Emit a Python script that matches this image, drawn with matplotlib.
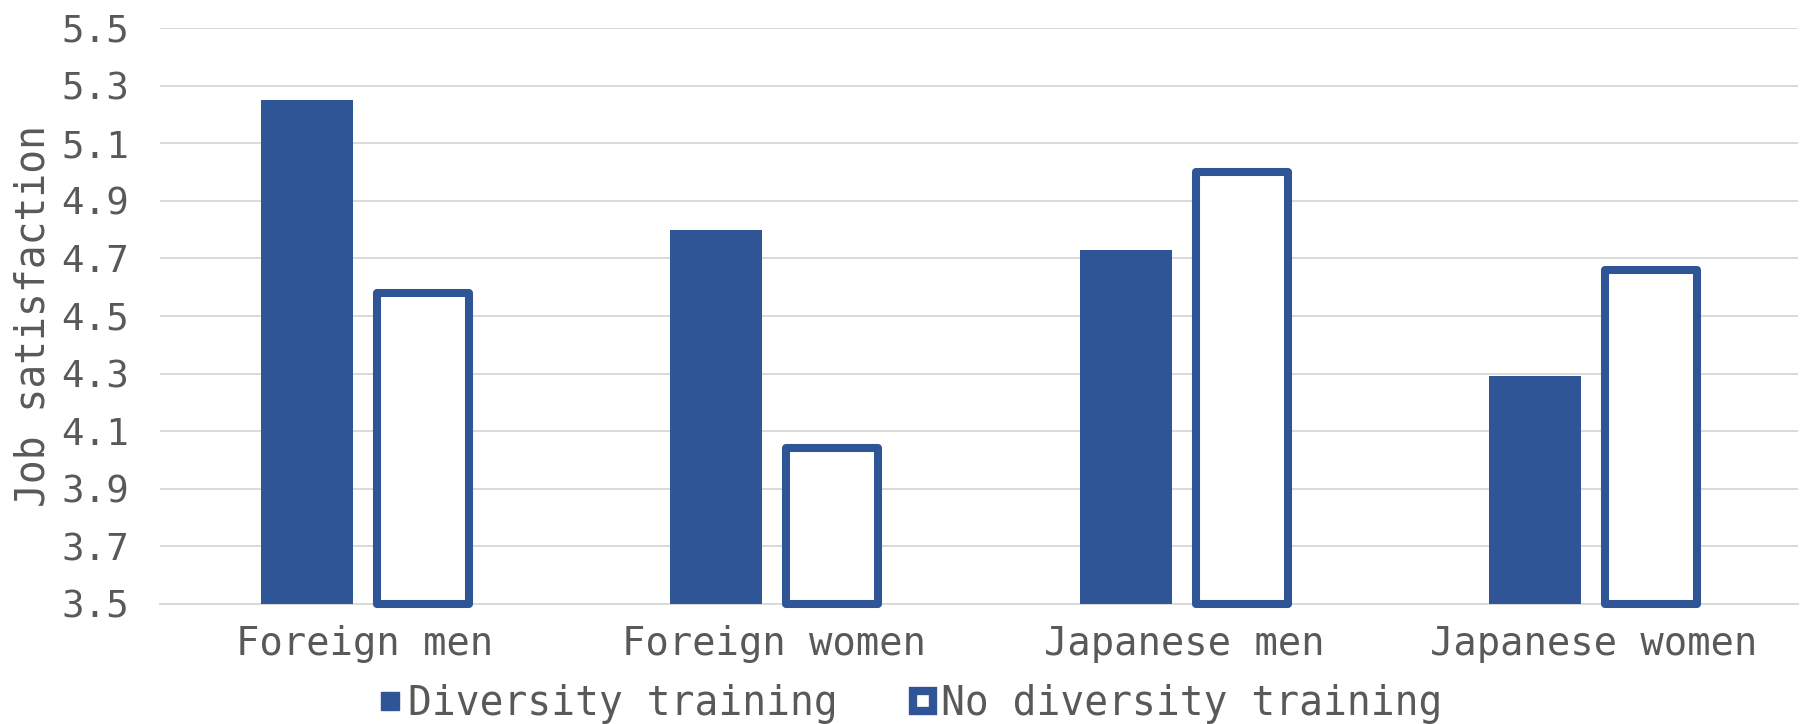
import numpy as np
import matplotlib
matplotlib.use('Agg')
import matplotlib.pyplot as plt
from matplotlib.lines import Line2D

groups = ["Foreign men", "Foreign women", "Japanese men", "Japanese women"]
trained = [5.25, 4.80, 4.73, 4.29]
untrained = [4.58, 4.04, 5.00, 4.66]
series_names = ["Diversity training", "No diversity training"]
y_ticks = [3.5, 3.7, 3.9, 4.1, 4.3, 4.5, 4.7, 4.9, 5.1, 5.3, 5.5]

blue = "#2F5597"
grey_text = "#595959"
grid_col = "#D9D9D9"
plt.rcParams['font.family'] = ['DejaVu Sans Mono']

fig = plt.figure(figsize=(18.04, 7.24), dpi=100)
ax = fig.add_axes([160 / 1804, 1 - 604 / 724, 1638 / 1804, 576 / 724])

x = np.arange(len(groups))
w = 0.2247
off = 0.1416
base = y_ticks[0]

# filled bars, then outlined bars sitting on the 3.5 baseline
ax.bar(x - off, np.array(trained) - base, w, bottom=base, color=blue, zorder=3)
ax.bar(x + off, np.array(untrained) - base, w, bottom=base, facecolor="white",
       edgecolor=blue, linewidth=5.8, joinstyle="round", zorder=3, clip_on=False)

ax.set_xlim(-0.5, len(groups) - 0.5)
ax.set_ylim(y_ticks[0], y_ticks[-1])
ax.set_yticks(y_ticks)
ax.set_yticklabels(["{:.1f}".format(v) for v in y_ticks])
ax.set_xticks(x)
ax.set_xticklabels(groups)
ax.grid(axis="y", color=grid_col, linewidth=1.4)
ax.set_axisbelow(True)
for s in ["top", "right", "left"]:
    ax.spines[s].set_visible(False)
ax.spines["bottom"].set_color(grid_col)
ax.spines["bottom"].set_linewidth(1.4)
ax.tick_params(axis="y", length=0, pad=22, labelsize=27, labelcolor=grey_text)
ax.tick_params(axis="x", length=0, pad=15, labelsize=28, labelcolor=grey_text)

ax.set_ylabel("Job satisfaction", fontsize=28.5, color=grey_text, va="center")
ax.yaxis.set_label_coords(-0.077, 0.5)

handles = [
    Line2D([], [], linestyle="none", marker="s", markersize=12.5, color=blue),
    Line2D([], [], linestyle="none", marker="s", markersize=14,
           markerfacecolor="white", markeredgecolor=blue, markeredgewidth=6),
]
fig.legend(handles, series_names, loc="center", bbox_to_anchor=(0.505, 1 - 704 / 724),
           ncol=2, frameon=False, fontsize=28.5, labelcolor=grey_text,
           handlelength=0.5, handletextpad=0.2, columnspacing=1.9,
           borderpad=0, borderaxespad=0)

fig.savefig("out.png", dpi=100)
